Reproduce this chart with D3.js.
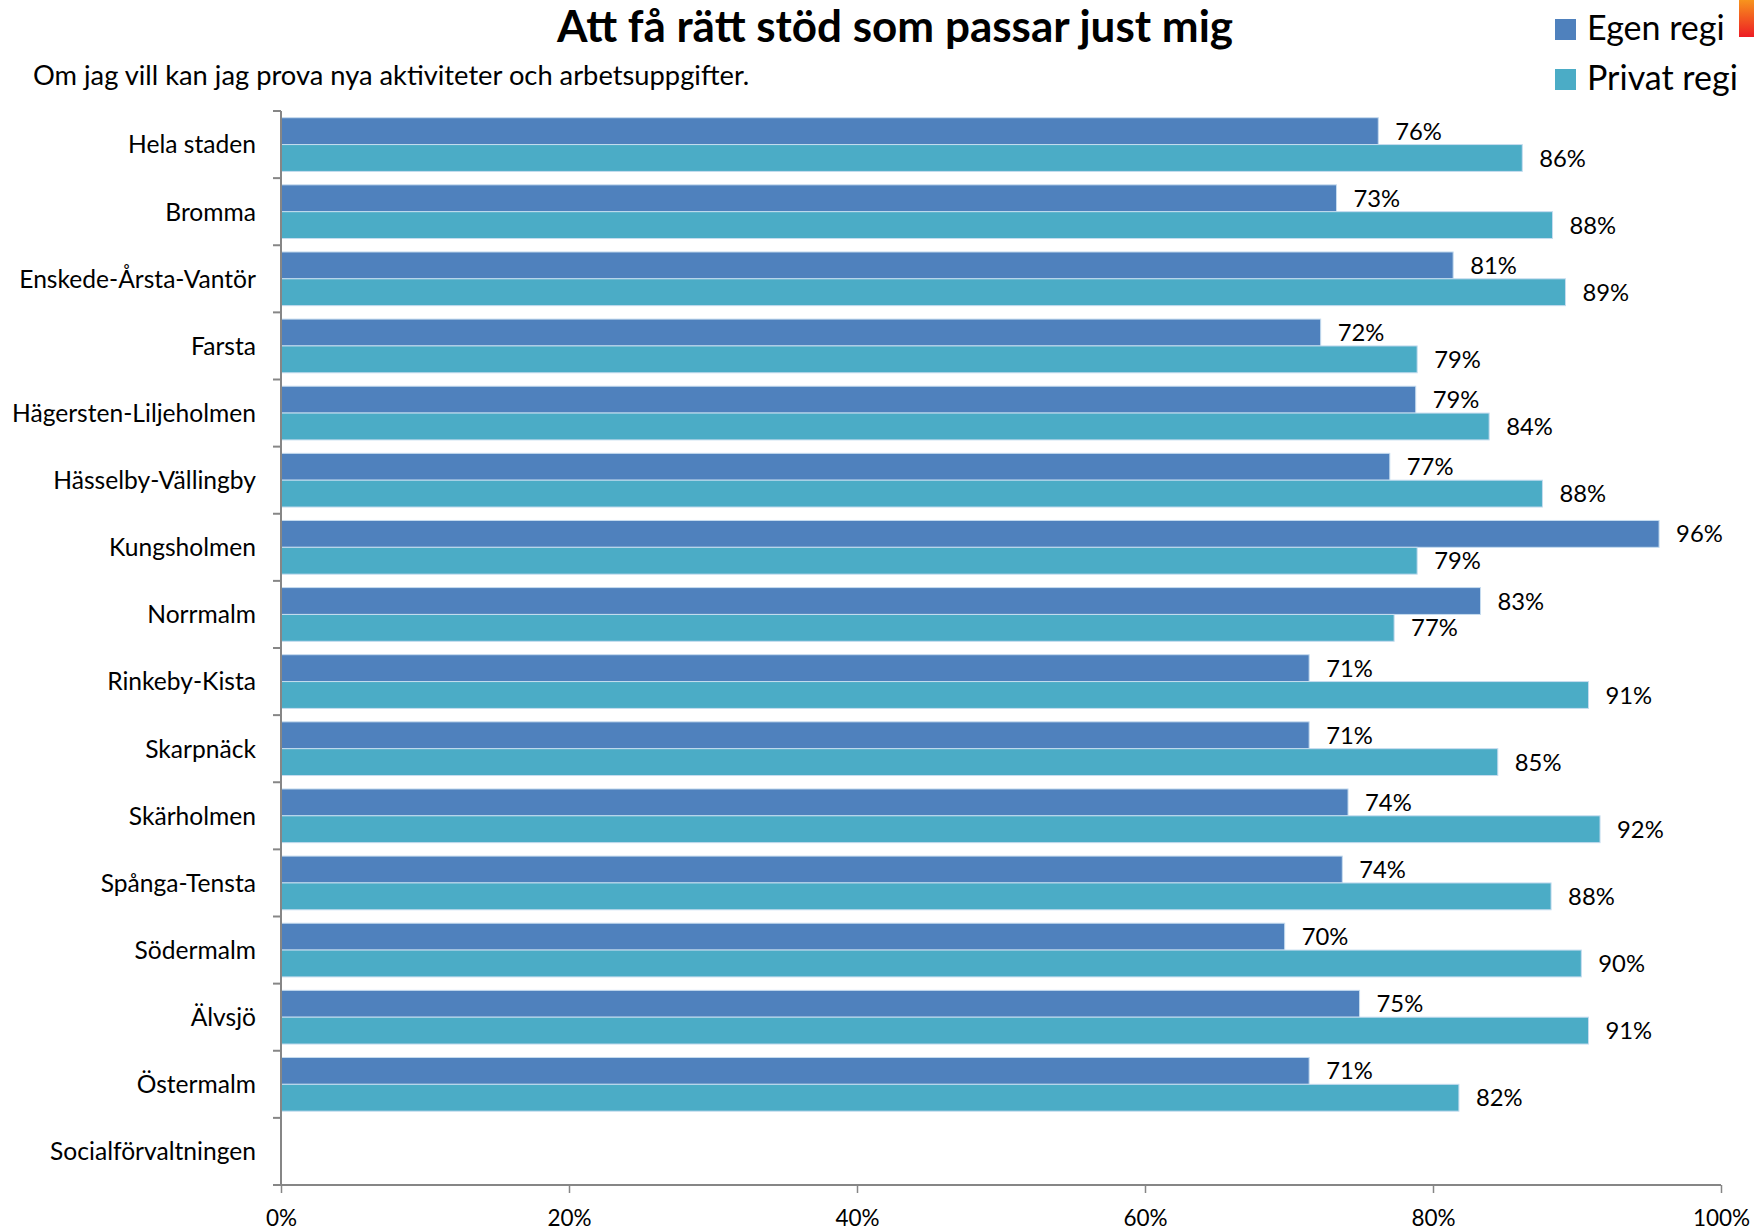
<!DOCTYPE html>
<html><head><meta charset="utf-8">
<script src="https://cdn.jsdelivr.net/npm/d3@7"></script>
<style>body{margin:0;background:#fff}svg{display:block}</style>
</head><body>
<script>
const categories = ["Hela staden","Bromma","Enskede-Årsta-Vantör","Farsta","Hägersten-Liljeholmen","Hässelby-Vällingby","Kungsholmen","Norrmalm","Rinkeby-Kista","Skarpnäck","Skärholmen","Spånga-Tensta","Södermalm","Älvsjö","Östermalm","Socialförvaltningen"];
const egenRegi = [0.762,0.733,0.814,0.722,0.788,0.770,0.957,0.833,0.714,0.714,0.741,0.737,0.697,0.749,0.714,null];
const privatRegi = [0.862,0.883,0.892,0.789,0.839,0.876,0.789,0.773,0.908,0.845,0.916,0.882,0.903,0.908,0.818,null];
const seriesNames = ["Egen regi","Privat regi"];
const seriesColors = ["#4F81BD","#4BACC6"];
const xTicks = [0,0.2,0.4,0.6,0.8,1.0];
const title = "Att få rätt stöd som passar just mig";
const subtitle = "Om jag vill kan jag prova nya aktiviteter och arbetsuppgifter.";

const W = 1754, H = 1232;
const font = "Lato, 'Open Sans', sans-serif";
const svg = d3.select("body").append("svg").attr("width",W).attr("height",H);
const pLeft = 281, pRight = 1721, pTop = 111, pBottom = 1185;
const x = d3.scaleLinear().domain([0,1]).range([pLeft,pRight]);
const y = d3.scaleBand().domain(categories).range([pTop,pBottom]).paddingInner(0.2).paddingOuter(0.1);
const y0 = d3.scaleBand().domain(categories).range([pTop,pBottom]);
const ys = d3.scaleBand().domain([0,1]).range([0,y.bandwidth()]);

// decorative corner
const grad = svg.append("defs").append("linearGradient").attr("id","g").attr("x1",0).attr("y1",0).attr("x2",0).attr("y2",1);
grad.append("stop").attr("offset","0%").attr("stop-color","#f7941d");
grad.append("stop").attr("offset","100%").attr("stop-color","#ed1c24");
svg.append("rect").attr("x",1739).attr("y",0).attr("width",15).attr("height",37).attr("fill","url(#g)");

svg.append("text").attr("x",895).attr("y",42).attr("text-anchor","middle")
  .style("font-family",font).style("font-weight","bold").style("font-size","44px").text(title);
svg.append("text").attr("x",33).attr("y",85)
  .style("font-family",font).style("font-size","27.3px").text(subtitle);

const series = [egenRegi, privatRegi];
series.forEach((vals,si)=>{
  const g = svg.append("g");
  const data = categories.map((c,i)=>({c, v:vals[i]})).filter(d=>d.v!=null);
  g.selectAll("rect").data(data).join("rect")
    .attr("x",x(0)).attr("y",d=>y(d.c)+ys(si))
    .attr("width",d=>x(d.v)-x(0)).attr("height",ys.bandwidth())
    .attr("fill",seriesColors[si]).attr("stroke","#c6dcef").attr("stroke-width",1);
  g.selectAll("text").data(data).join("text")
    .attr("x",d=>x(d.v)+17).attr("y",d=>y(d.c)+ys(si)+ys.bandwidth()/2)
    .attr("dy","0.36em")
    .style("font-family",font).style("font-size","23.8px").text(d=>d3.format(".0%")(d.v));
});

// y axis
const ya = svg.append("g").attr("transform",`translate(${pLeft},0)`);
ya.append("line").attr("x1",0).attr("x2",0).attr("y1",pTop).attr("y2",pBottom).attr("stroke","#868686").attr("stroke-width",2);
const bounds = categories.map(c=>y0(c)).concat([pBottom]);
ya.selectAll("line.t").data(bounds).join("line").attr("class","t")
  .attr("x1",-8).attr("x2",0).attr("y1",d=>d).attr("y2",d=>d).attr("stroke","#868686").attr("stroke-width",2);
ya.selectAll("text").data(categories).join("text")
  .attr("x",-25).attr("y",d=>y0(d)+y0.bandwidth()/2).attr("dy","0.36em").attr("text-anchor","end")
  .style("font-family",font).style("font-size","24.6px").text(d=>d);

// x axis
const xa = svg.append("g").attr("transform",`translate(0,${pBottom})`)
  .call(d3.axisBottom(x).tickValues(xTicks).tickFormat(d3.format(".0%")).tickSizeOuter(0).tickSizeInner(8).tickPadding(17));
xa.select(".domain").attr("stroke","#868686").attr("stroke-width",2).attr("d",`M${pLeft-8},0H${pRight}`);
xa.selectAll(".tick line").attr("stroke","#868686").attr("stroke-width",1.5);
xa.selectAll(".tick text").style("font-family",font).style("font-size","22.5px").attr("fill","#000");

// legend
const lg = svg.append("g");
seriesNames.forEach((n,i)=>{
  lg.append("rect").attr("x",1555).attr("y",19+i*50).attr("width",21).attr("height",21).attr("fill",seriesColors[i]);
  lg.append("text").attr("x",1587).attr("y",40+i*50).style("font-family",font).style("font-size","34px").text(n);
});
</script>
</body></html>
